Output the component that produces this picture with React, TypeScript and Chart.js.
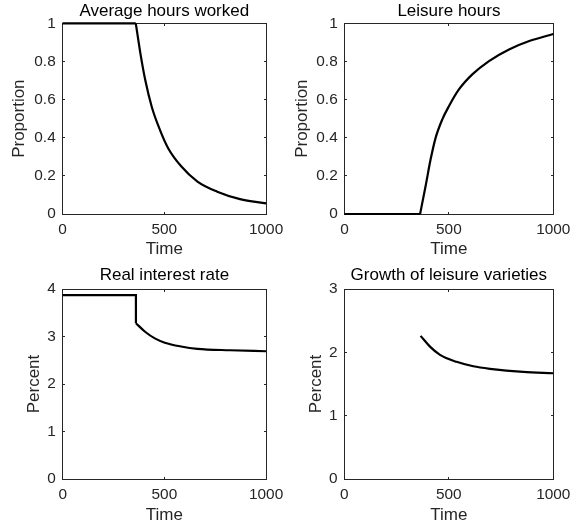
import React, { useEffect, useRef } from "react";
import { Chart, registerables } from "chart.js";

Chart.register(...registerables);

// ---- data ----
const timeTicks = [0, 500, 1000];
const proportionTicks = [0, 0.2, 0.4, 0.6, 0.8, 1];
const rateTicks = [0, 1, 2, 3, 4];
const growthTicks = [0, 1, 2, 3];

const hoursTime = [0, 360, 383, 407, 439, 479, 519, 583, 663, 760, 872, 1000];
const hoursValue = [1, 1, 0.84, 0.7, 0.56, 0.44, 0.345, 0.25, 0.17, 0.117, 0.078, 0.056];

const leisureTime = [0, 362, 388, 412, 436, 468, 500, 548, 612, 692, 788, 885, 1000];
const leisureValue = [0, 0, 0.144, 0.284, 0.398, 0.495, 0.565, 0.653, 0.732, 0.802, 0.863, 0.907, 0.944];

const rateTime = [0, 360, 360, 405, 453, 502, 582, 662, 823, 1000];
const rateValue = [3.87, 3.87, 3.28, 3.1, 2.96, 2.87, 2.79, 2.74, 2.71, 2.69];

const growthTime = [365, 410, 458, 537, 617, 697, 856, 1000];
const growthValue = [2.26, 2.09, 1.96, 1.85, 1.78, 1.74, 1.69, 1.67];

// ---- panel layout ----
type Panel = {
  title: string;
  yLabel: string;
  time: number[];
  values: number[];
  kink: number;
  yTicks: number[];
  canvas: { left: number; top: number; w: number; h: number };
  plot: { l: number; t: number; r: number; b: number };
  yTitlePad: number;
  titlePadTop: number;
};

const panels: Panel[] = [
  {
    title: "Average hours worked",
    yLabel: "Proportion",
    time: hoursTime,
    values: hoursValue,
    kink: 1,
    yTicks: proportionTicks,
    canvas: { left: 0, top: 0, w: 290, h: 260 },
    plot: { l: 62.5, t: 23.3, r: 270, b: 214 },
    yTitlePad: 8.8,
    titlePadTop: 1,
  },
  {
    title: "Leisure hours",
    yLabel: "Proportion",
    time: leisureTime,
    values: leisureValue,
    kink: 1,
    yTicks: proportionTicks,
    canvas: { left: 290, top: 0, w: 290, h: 260 },
    plot: { l: 54.5, t: 23.3, r: 263.3, b: 214 },
    yTitlePad: 2,
    titlePadTop: 1,
  },
  {
    title: "Real interest rate",
    yLabel: "Percent",
    time: rateTime,
    values: rateValue,
    kink: 2,
    yTicks: rateTicks,
    canvas: { left: 0, top: 260, w: 290, h: 266 },
    plot: { l: 62.7, t: 29, r: 270, b: 219 },
    yTitlePad: 24,
    titlePadTop: 5.6,
  },
  {
    title: "Growth of leisure varieties",
    yLabel: "Percent",
    time: growthTime,
    values: growthValue,
    kink: -1,
    yTicks: growthTicks,
    canvas: { left: 290, top: 260, w: 290, h: 266 },
    plot: { l: 54.3, t: 29, r: 263.3, b: 219 },
    yTitlePad: 16.5,
    titlePadTop: 5.6,
  },
];

const FONT = "'Liberation Sans', Arial, Helvetica, sans-serif";
const TICK_SIZE = 15.4;
const LABEL_SIZE = 17;
const AXIS_COLOR = "#262626";

const framePlugin = {
  id: "frame",
  beforeDatasetsDraw(chart: any) {
    const { ctx, chartArea: a, scales } = chart;
    const L = Math.floor(a.left) + 0.5;
    const R = Math.floor(a.right) + 0.5;
    const T = Math.floor(a.top) + 0.5;
    const B = Math.floor(a.bottom) + 0.5;
    ctx.save();
    ctx.strokeStyle = AXIS_COLOR;
    ctx.lineWidth = 1;
    ctx.strokeRect(L, T, R - L, B - T);
    const len = 2.5;
    ctx.beginPath();
    for (const t of scales.x.ticks) {
      const px = Math.floor(scales.x.getPixelForValue(t.value)) + 0.5;
      if (px <= L + 1 || px >= R - 1) continue;
      ctx.moveTo(px, B);
      ctx.lineTo(px, B - len);
      ctx.moveTo(px, T);
      ctx.lineTo(px, T + len);
    }
    for (const t of scales.y.ticks) {
      const py = Math.floor(scales.y.getPixelForValue(t.value)) + 0.5;
      if (py <= T + 1 || py >= B - 1) continue;
      ctx.moveTo(L, py);
      ctx.lineTo(L + len, py);
      ctx.moveTo(R, py);
      ctx.lineTo(R - len, py);
    }
    ctx.stroke();
    ctx.restore();
  },
};

function PanelChart({ p }: { p: Panel }) {
  const ref = useRef<HTMLCanvasElement | null>(null);
  useEffect(() => {
    if (!ref.current) return;
    const pts = p.time.map((t, i) => ({ x: t, y: p.values[i] }));
    const flat = p.kink > 0 ? pts.slice(0, p.kink + 1) : [];
    const curve = pts.slice(Math.max(p.kink, 0));
    const common = {
      borderColor: "#000000",
      borderWidth: 2.2,
      pointRadius: 0,
      fill: false,
      clip: false as any,
    };
    const datasets: any[] = [];
    if (flat.length) datasets.push({ ...common, data: flat, tension: 0 });
    datasets.push({ ...common, data: curve, cubicInterpolationMode: "monotone" });

    const { w, h } = p.canvas;
    const chart = new Chart(ref.current, {
      type: "line",
      data: { datasets },
      plugins: [framePlugin],
      options: {
        animation: false,
        responsive: false,
        devicePixelRatio: 1,
        events: [],
        layout: { padding: { left: 0, top: 0, right: w - p.plot.r, bottom: 0 } },
        plugins: {
          legend: { display: false },
          tooltip: { enabled: false },
          title: {
            display: true,
            text: p.title,
            fullSize: false,
            color: "#000000",
            font: { family: FONT, size: LABEL_SIZE, weight: "normal" as any, lineHeight: 1.2 },
            padding: { top: p.titlePadTop, bottom: p.plot.t - LABEL_SIZE * 1.2 - p.titlePadTop },
          },
        },
        scales: {
          x: {
            type: "linear",
            min: 0,
            max: 1000,
            grid: { display: false, drawTicks: false },
            border: { display: false },
            afterBuildTicks: (s: any) => {
              s.ticks = timeTicks.map((v) => ({ value: v }));
            },
            afterFit: (s: any) => {
              s.height = h - p.plot.b;
            },
            ticks: {
              color: AXIS_COLOR,
              font: { family: FONT, size: TICK_SIZE, lineHeight: 1.2 },
              padding: 6.8,
              maxRotation: 0,
              autoSkip: false,
              callback: (v: any) => String(v),
            },
            title: {
              display: true,
              text: "Time",
              color: AXIS_COLOR,
              font: { family: FONT, size: LABEL_SIZE, lineHeight: 1.2 },
              padding: { top: 0, bottom: 0 },
            },
          },
          y: {
            type: "linear",
            min: p.yTicks[0],
            max: p.yTicks[p.yTicks.length - 1],
            grid: { display: false, drawTicks: false },
            border: { display: false },
            afterBuildTicks: (s: any) => {
              s.ticks = p.yTicks.map((v) => ({ value: v }));
            },
            afterFit: (s: any) => {
              s.width = p.plot.l;
            },
            ticks: {
              color: AXIS_COLOR,
              font: { family: FONT, size: TICK_SIZE, lineHeight: 1.2 },
              padding: 6.8,
              autoSkip: false,
              callback: (v: any) => String(v),
            },
            title: {
              display: true,
              text: p.yLabel,
              color: AXIS_COLOR,
              font: { family: FONT, size: LABEL_SIZE, lineHeight: 1.2 },
              padding: { top: p.yTitlePad, bottom: 0 },
            },
          },
        },
      } as any,
    });
    return () => chart.destroy();
  }, [p]);

  return (
    <div
      style={{
        position: "absolute",
        left: p.canvas.left,
        top: p.canvas.top,
        width: p.canvas.w,
        height: p.canvas.h,
      }}
    >
      <canvas ref={ref} width={p.canvas.w} height={p.canvas.h} style={{ display: "block" }} />
    </div>
  );
}

export default function App() {
  return (
    <div
      style={{
        position: "fixed",
        left: 0,
        top: 0,
        width: 580,
        height: 526,
        background: "#ffffff",
        overflow: "hidden",
      }}
    >
      {panels.map((p) => (
        <PanelChart key={p.title} p={p} />
      ))}
    </div>
  );
}
